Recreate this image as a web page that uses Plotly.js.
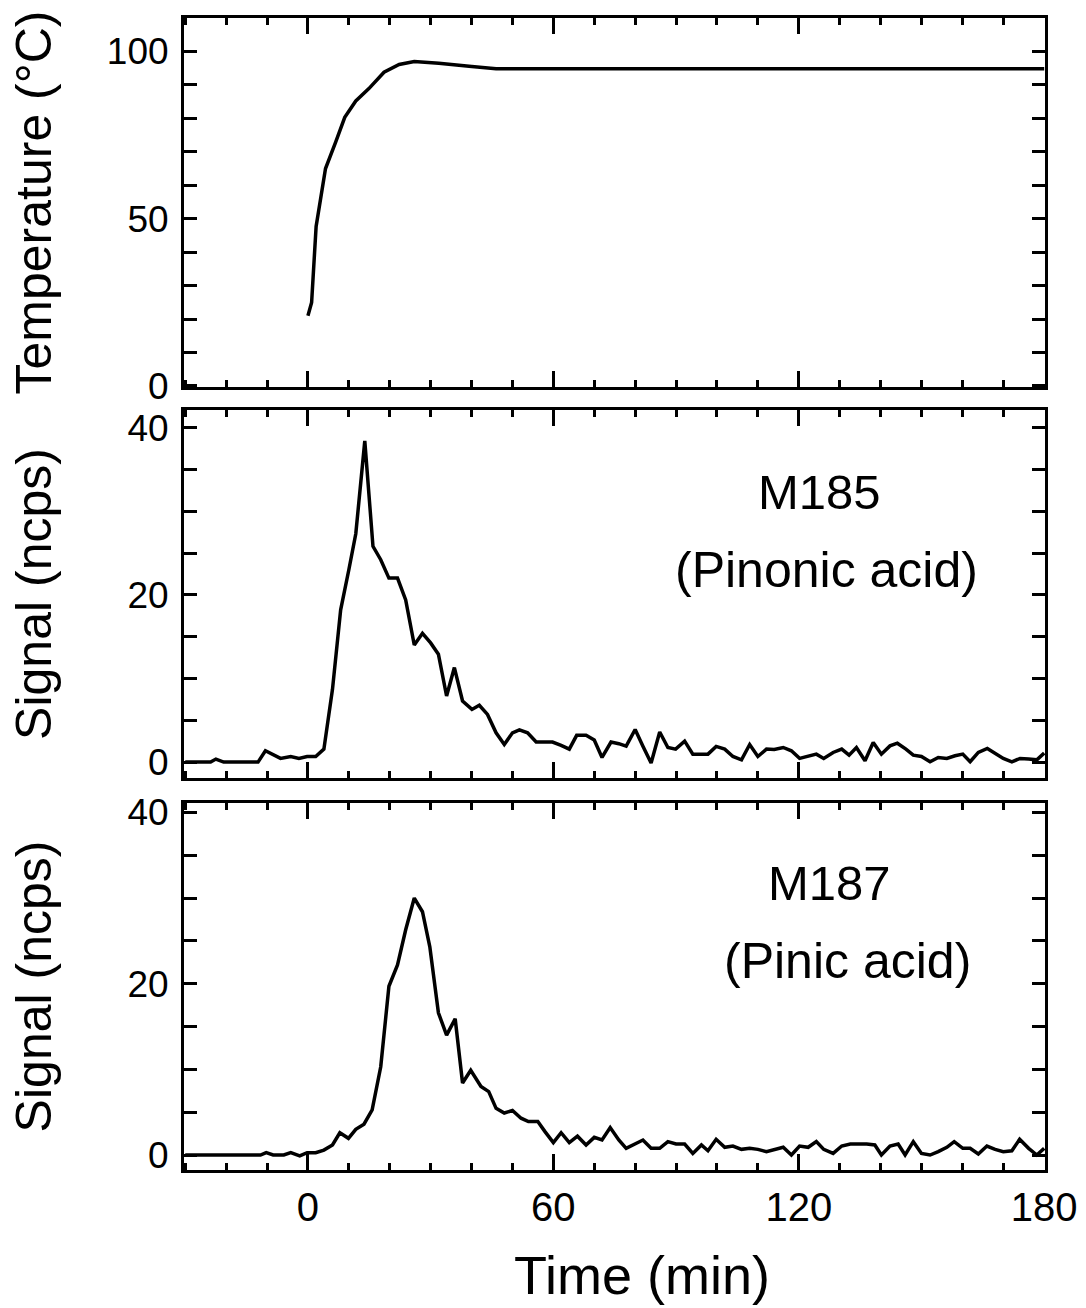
<!DOCTYPE html>
<html>
<head>
<meta charset="utf-8">
<script src="https://cdn.plot.ly/plotly-3.0.1.min.js"></script>
<style>html,body{margin:0;padding:0;background:#fff;}#chart{width:1086px;height:1308px;}</style>
</head>
<body>
<div id="chart"></div>
<script>
// ---- Data ----
const timeTemp = [0, 0.9, 2.0, 3.35, 4.3, 6.8, 9.0, 11.7, 14.9, 18.6, 22.3, 26, 32, 39.4, 46, 180];
const temperatureC = [21, 25, 47.7, 58.6, 65, 73, 80.3, 85.2, 88.9, 93.8, 96.1, 97, 96.5, 95.6, 94.8, 94.8];

const timeM185 = [-30, -23.8, -22.5, -20.6, -12.2, -10.4, -6.7, -4.2, -2.2, -0.2, 1.9, 3.9, 6, 8, 10, 11.7, 13.9, 15.9, 17.8, 19.8,
  21.9, 23.9, 26, 28, 30, 31.9, 33.9, 35.8, 37.8, 40.1, 41.9, 43.9, 46, 48, 50, 51.7, 53.7, 55.8, 57.8, 59.8,
  61.9, 63.9, 65.7, 68, 70, 71.9, 74.1, 76, 77.8, 80, 81.9, 83.9, 86, 88, 89.9, 92.1, 94.1, 96, 97.8, 99.8,
  101.9, 103.9, 106, 108, 110, 112.1, 114, 116.2, 118.2, 120.2, 122.3, 124.3, 126.1, 128.4, 130.5, 132.3, 134.1, 136.2, 138.2, 140.2,
  142.3, 144.1, 146.2, 148, 150, 152.1, 154.1, 156.2, 158.2, 160.1, 161.9, 163.9, 166.1, 168, 170, 172.1, 174.1, 176.2, 178.2, 180];
const signalM185 = [0, 0, 0.36, 0, 0, 1.35, 0.44, 0.67, 0.44, 0.67, 0.67, 1.55, 8.7, 18.2, 23, 27.3, 38.4, 25.8, 24.2, 22,
  22, 19.4, 14.0, 15.4, 14.25, 12.9, 7.9, 11.3, 7.3, 6.3, 6.8, 5.7, 3.5, 2.1, 3.5, 3.85, 3.5, 2.4, 2.4, 2.4,
  2.0, 1.55, 3.2, 3.2, 2.65, 0.55, 2.4, 2.2, 1.9, 3.9, 1.9, -0.1, 3.6, 1.75, 1.55, 2.5, 0.95, 0.95, 0.95, 1.87,
  1.55, 0.67, 0.27, 2.1, 0.67, 1.55, 1.5, 1.75, 1.35, 0.44, 0.67, 0.95, 0.44, 1.15, 1.55, 0.83, 1.75, 0.16, 2.35, 0.95,
  1.94, 2.26, 1.55, 0.83, 0.67, 0.04, 0.55, 0.44, 0.75, 0.95, 0.04, 1.15, 1.63, 1.07, 0.44, 0.04, 0.44, 0.36, 0.27, 1.07];

const timeM187 = [-30, -11.6, -10.2, -8.5, -5.9, -4.2, -2, -0.2, 1.9, 3.9, 6, 7.8, 9.9, 11.7, 13.7, 15.7, 17.8, 19.8, 21.9, 23.9,
  26, 28, 29.8, 31.9, 33.9, 36, 37.8, 39.8, 42.3, 44.2, 46, 48, 50, 52.1, 53.9, 56.2, 58, 60, 61.9, 63.9,
  65.9, 68, 70, 71.9, 73.9, 76, 77.8, 80, 81.9, 83.9, 86, 88, 90, 92.1, 94.1, 96.2, 97.8, 99.8, 101.9, 103.9,
  106, 108, 110, 112.1, 114, 116.2, 118.2, 120.2, 122.3, 124.3, 126.1, 128.4, 130.5, 132.6, 134.6, 136.6, 138.6, 140.2, 142.3, 144.3,
  146, 148, 150, 152.1, 154.1, 156.2, 158, 160.1, 161.9, 163.9, 166, 168, 170, 172.1, 174, 176.2, 178.2, 180];
const signalM187 = [0, 0, 0.27, 0, 0, 0.27, -0.1, 0.27, 0.27, 0.58, 1.17, 2.6, 1.95, 3.0, 3.6, 5.26, 10.3, 19.7, 22.2, 26.3,
  30, 28.4, 24.3, 16.6, 14, 15.9, 8.4, 9.9, 8.0, 7.4, 5.45, 4.9, 5.2, 4.3, 3.9, 3.9, 2.7, 1.44, 2.6, 1.44,
  2.2, 1.17, 2.06, 1.75, 3.2, 1.75, 0.78, 1.3, 1.75, 0.78, 0.78, 1.56, 1.28, 1.28, 0.19, 1.17, 0.5, 1.83, 0.9, 1.05,
  0.66, 0.78, 0.66, 0.39, 0.66, 0.9, 0, 1.05, 0.9, 1.56, 0.66, 0.19, 1.05, 1.28, 1.28, 1.28, 1.17, 0, 1.05, 1.28,
  0, 1.56, 0.19, 0, 0.39, 0.9, 1.56, 0.78, 0.78, 0.12, 1.05, 0.66, 0.39, 0.5, 1.83, 0.78, 0, 0.78];

const xTickVals = [0, 60, 120, 180];
const xTickText = ['0', '60', '120', '180'];
const tempTickVals = [0, 50, 100];
const signalTickVals = [0, 20, 40];

const labelM185 = 'M185';
const nameM185 = '(Pinonic acid)';
const labelM187 = 'M187';
const nameM187 = '(Pinic acid)';
const xTitle = 'Time (min)';
const yTitleTemp = 'Temperature (°C)';
const yTitleSignal = 'Signal (ncps)';

// ---- Styling ----
const FONT = 'Liberation Sans, Arial, Helvetica, sans-serif';
const lineStyle = {color: '#000', width: 3.5};

const traces = [
  {x: timeTemp, y: temperatureC, xaxis: 'x', yaxis: 'y', mode: 'lines', line: lineStyle, showlegend: false},
  {x: timeM185, y: signalM185, xaxis: 'x2', yaxis: 'y2', mode: 'lines', line: lineStyle, showlegend: false},
  {x: timeM187, y: signalM187, xaxis: 'x3', yaxis: 'y3', mode: 'lines', line: lineStyle, showlegend: false}
];

function xAxis(anchor, showLabels) {
  return {
    anchor: anchor, range: [-30.3, 180.2], showgrid: false, zeroline: false,
    showline: true, linecolor: '#000', linewidth: 3, mirror: 'ticks',
    ticks: 'inside', ticklen: 16, tickwidth: 3, tickcolor: '#000',
    tickmode: 'array', tickvals: xTickVals, ticktext: xTickText,
    minor: {dtick: 10, tick0: 0, ticks: 'inside', ticklen: 7, tickwidth: 3, tickcolor: '#000', showgrid: false},
    showticklabels: showLabels, ticklabelstandoff: 0,
    tickfont: {family: FONT, size: 40, color: '#000'}
  };
}
function yAxis(anchor, domain, range, tickvals, minorDtick, title, standoff) {
  return {
    anchor: anchor, domain: domain, range: range, showgrid: false, zeroline: false,
    showline: true, linecolor: '#000', linewidth: 3, mirror: 'ticks',
    ticks: 'inside', ticklen: 13, tickwidth: 3, tickcolor: '#000',
    tickmode: 'array', tickvals: tickvals,
    minor: {dtick: minorDtick, tick0: 0, ticks: 'inside', ticklen: 13, tickwidth: 3, tickcolor: '#000', showgrid: false},
    ticklabelstandoff: 5,
    tickfont: {family: FONT, size: 37, color: '#000'},
    title: {text: title, font: {family: FONT, size: 50, color: '#000'}, standoff: standoff}
  };
}

const layout = {
  width: 1086, height: 1308,
  margin: {l: 184, r: 41, t: 18, b: 138},
  paper_bgcolor: '#fff', plot_bgcolor: '#fff',
  font: {family: FONT, color: '#000'},
  showlegend: false,
  xaxis: xAxis('y', false),
  xaxis2: xAxis('y2', false),
  xaxis3: xAxis('y3', true),
  yaxis: yAxis('x', [0.6797, 1], [-0.3, 110], tempTickVals, 10, yTitleTemp, 40),
  yaxis2: yAxis('x2', [0.3403, 0.6597], [-1.9, 42.1], signalTickVals, 5, yTitleSignal, 60),
  yaxis3: yAxis('x3', [0, 0.3186], [-1.75, 41.1], signalTickVals, 5, yTitleSignal, 60),
  annotations: [
    {xref: 'x2', yref: 'y2', x: 125.1, y: 32.3, text: labelM185, showarrow: false, xanchor: 'center', yanchor: 'middle', font: {family: FONT, size: 49, color: '#000'}},
    {xref: 'x2', yref: 'y2', x: 126.8, y: 23.0, text: nameM185, showarrow: false, xanchor: 'center', yanchor: 'middle', font: {family: FONT, size: 50, color: '#000'}},
    {xref: 'x3', yref: 'y3', x: 127.6, y: 31.8, text: labelM187, showarrow: false, xanchor: 'center', yanchor: 'middle', font: {family: FONT, size: 49, color: '#000'}},
    {xref: 'x3', yref: 'y3', x: 132.0, y: 22.6, text: nameM187, showarrow: false, xanchor: 'center', yanchor: 'middle', font: {family: FONT, size: 50, color: '#000'}},
    {xref: 'paper', yref: 'paper', x: 0.532, y: -0.0911, text: xTitle, showarrow: false, xanchor: 'center', yanchor: 'middle', font: {family: FONT, size: 54, color: '#000'}}
  ]
};

Plotly.newPlot('chart', traces, layout, {displayModeBar: false, staticPlot: true});
</script>
</body>
</html>
